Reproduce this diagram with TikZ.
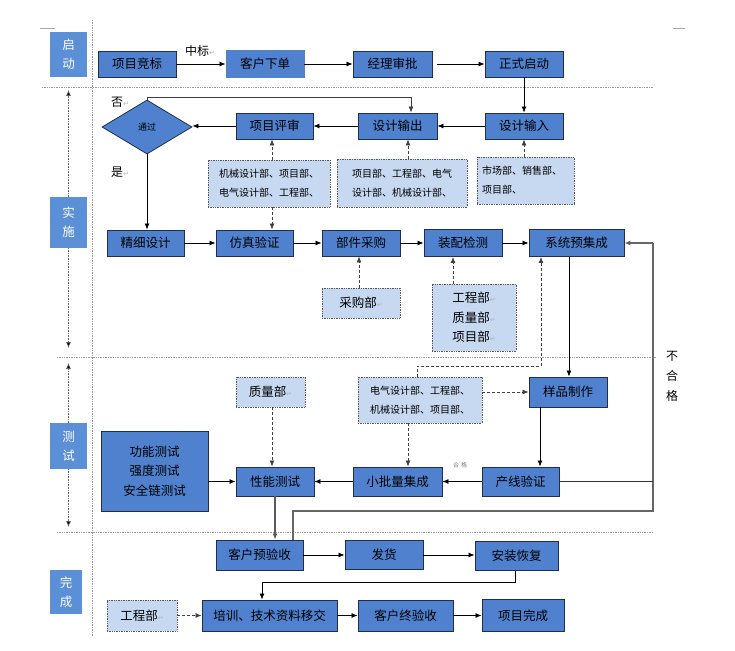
\documentclass[tikz,border=0pt]{standalone}
\usepackage{fontspec}
\setmainfont{Noto Sans CJK SC}
\newfontfamily\dvs{DejaVu Sans}
\usetikzlibrary{arrows.meta,shapes.geometric}
\definecolor{boxblue}{HTML}{4F81CF}
\definecolor{lblblue}{HTML}{5B8FD6}
\definecolor{lightblue}{HTML}{C6D9F1}
\definecolor{navy}{HTML}{1F2F4F}
\newcommand\parmk{{\dvs\color{gray!60}\fontsize{7}{7}\selectfont ↵}}
\begin{document}
\begin{tikzpicture}[x=1pt,y=-1pt,
  box/.style={draw=navy, line width=0.9pt, fill=boxblue, inner sep=0pt, text=black, font=\fontsize{12.5}{15}\selectfont},
  lbl/.style={fill=lblblue, text=white, inner sep=0pt, align=center, font=\fontsize{12.5}{19}\selectfont},
  dept/.style={draw=gray!70!black, densely dotted, line width=0.7pt, fill=lightblue, inner sep=0pt, align=center, font=\fontsize{10}{19}\selectfont},
  deptbig/.style={dept, font=\fontsize{12.5}{19.5}\selectfont},
  arr/.style={-{Latex[length=6pt,width=5pt]}, line width=0.8pt, draw=black},
  darr/.style={arr, draw=black!75, dash pattern=on 3pt off 2pt},
  fb/.style={line width=1.1pt, draw=black!60},
  sep/.style={draw=gray!80, densely dotted, line width=0.7pt},
  side/.style={draw=black!60, densely dotted, line width=0.6pt, -{Latex[length=6pt,width=5pt,fill=black]}},
  txt/.style={inner sep=0pt, font=\fontsize{12}{14}\selectfont}
]
\useasboundingbox (0,0) rectangle (735,650);
\fill[white] (0,0) rectangle (735,650);

% separators and corner marks
\draw[sep] (42,87) -- (653,87);
\draw[sep] (57,357) -- (657,357);
\draw[sep] (57,532) -- (653,532);
\draw[sep] (92,20) -- (92,636);
\draw[gray!70, line width=0.6pt] (40,28) -- (55,28);
\draw[gray!70, line width=0.6pt] (673,28) -- (685,28);

% phase labels
\node[lbl, minimum width=37pt, minimum height=45pt] (qd) at (68.5,54.5) {启\\动};
\node[lbl, minimum width=37pt, minimum height=51pt] (ss) at (68.5,222.5) {实\\施};
\node[lbl, minimum width=37pt, minimum height=46pt] (cs) at (68.5,446) {测\\试};
\node[lbl, minimum width=32pt, minimum height=44pt] (wc) at (66,592) {完\\成};

\draw[side] (ss.north) -- (68.5,90);
\draw[side] (ss.south) -- (68.5,348);
\draw[side] (cs.north) -- (68.5,363);
\draw[side] (cs.south) -- (68.5,527);

% row 1
\node[box, minimum width=78pt, minimum height=26pt] (xmjb) at (137,64) {项目竞标};
\node[box, draw=boxblue, minimum width=78pt, minimum height=27pt] (khxd) at (265,64) {客户下单};
\node[box, minimum width=79pt, minimum height=26pt] (jlsp) at (392.5,64) {经理审批};
\node[box, minimum width=78pt, minimum height=26pt] (zsqd) at (524,64) {正式启动};
\draw[arr] (xmjb) -- (khxd);
\draw[arr] (khxd) -- (jlsp);
\draw[arr] ([xshift=5pt]jlsp.east) -- (zsqd);
\node[txt] (zb) at (200,51) {中标\parmk};

% row 2
\node[box, minimum width=78pt, minimum height=26pt] (sjsr) at (524,126) {设计输入};
\node[box, minimum width=79pt, minimum height=26pt] (sjsc) at (397.5,126) {设计输出};
\node[box, minimum width=77pt, minimum height=26pt] (xmps) at (274.5,126) {项目评审};
\node[draw=navy, fill=boxblue, diamond, line width=0.8pt, minimum width=90pt, minimum height=54pt, inner sep=0pt, font=\fontsize{9}{9}\selectfont] (tg) at (147,127) {通过};
\draw[arr] (zsqd) -- (sjsr);
\draw[arr] (sjsr) -- (sjsc);
\draw[arr] (sjsc) -- (xmps);
\draw[arr] (xmps.west) -- (xmps.west -| tg.east);
\coordinate (fbtop) at (411,97);
\draw[arr, draw=black!75] (tg.north) |- (fbtop) -- (fbtop |- sjsc.north);
\node[txt] (fou) at (120,102) {否\parmk};
\node[txt] (shi) at (120,172) {是\parmk};

\node[dept, minimum width=122pt, minimum height=47pt] (d1) at (269,183.5) {机械设计部、项目部、\\电气设计部、工程部、};
\node[dept, minimum width=130pt, minimum height=48pt] (d2) at (402,183) {项目部、工程部、电气\\设计部、机械设计部、};
\node[dept, align=left, minimum width=97pt, minimum height=47pt, text width=87pt] (d3) at (525.5,180.5) {市场部、销售部、\\项目部、};
\coordinate (xa) at (272,0);
\coordinate (xb) at (408,0);
\coordinate (xc) at (524,0);
\draw[darr] (xa |- d1.north) -- (xa |- xmps.south);
\draw[darr] (xb |- d2.north) -- (xb |- sjsc.south);
\draw[darr] (xc |- d3.north) -- (xc |- sjsr.south);

% row 3
\node[box, minimum width=77pt, minimum height=26pt] (jxsj) at (145.5,243) {精细设计};
\node[box, minimum width=77pt, minimum height=26pt] (fzyz) at (254.5,243) {仿真验证};
\node[box, minimum width=78pt, minimum height=26pt] (bjcg) at (361,243) {部件采购};
\node[box, minimum width=78pt, minimum height=27pt] (zpjc) at (463,243) {装配检测};
\node[box, minimum width=95pt, minimum height=27pt] (xtyjc) at (576.5,243) {系统预集成};
\draw[arr] (tg.south) -- (tg.south |- jxsj.north);
\draw[darr] (xa |- d1.south) -- (xa |- fzyz.north);
\draw[arr] (jxsj) -- (fzyz);
\draw[arr] (fzyz) -- (bjcg);
\draw[arr] (bjcg) -- (zpjc);
\draw[arr] (zpjc) -- (xtyjc);

\node[deptbig, minimum width=78pt, minimum height=30pt] (cgb) at (361,303) {采购部\parmk};
\node[deptbig, minimum width=84pt, minimum height=67pt] (gzx) at (474,317.5) {工程部\parmk\\质量部\parmk\\项目部\parmk};
\coordinate (xd) at (359,0);
\coordinate (xe) at (453,0);
\draw[darr] (xd |- cgb.north) -- (xd |- bjcg.south);
\draw[darr] (xe |- gzx.north) -- (xe |- zpjc.south);

% test section
\node[box, minimum width=78pt, minimum height=30pt] (ypzz) at (568,392) {样品制作};
\node[dept, minimum width=124pt, minimum height=46pt] (d4) at (420,400) {电气设计部、工程部、\\机械设计部、项目部、};
\node[box, minimum width=89pt, minimum height=29pt] (xplj) at (397.5,481.5) {小批量集成};
\node[box, minimum width=77pt, minimum height=29pt] (cxyz) at (520.5,481.5) {产线验证};
\node[box, minimum width=78pt, minimum height=29pt] (xncs) at (275,481.5) {性能测试};
\node[box, align=center, minimum width=107pt, minimum height=80pt, font=\fontsize{12.5}{19.5}\selectfont] (gn) at (154.5,471) {功能测试\\强度测试\\安全链测试};
\node[deptbig, minimum width=69pt, minimum height=30pt] (zlb) at (270.5,392) {质量部\parmk};

\coordinate (xf) at (417,0);
\coordinate (xg) at (541,0);
\coordinate (xh) at (540,0);
\coordinate (xi) at (569,0);
\draw[arr] (xi |- xtyjc.south) -- (xi |- ypzz.north);
\draw[darr] (xf |- d4.north) -- (417,366) -- (541,366) -- (xg |- xtyjc.south);
\draw[darr] (d4.east |- ypzz.west) -- (ypzz.west);
\draw[darr] (xb |- d4.south) -- (xb |- xplj.north);
\draw[arr] (xh |- ypzz.south) -- (xh |- cxyz.north);
\draw[arr] (cxyz) -- (xplj);
\draw[arr] (xplj) -- (xncs);
\draw[arr] (gn.east |- xncs.west) -- (xncs.west);
\draw[darr] (xa |- zlb.south) -- (xa |- xncs.north);
\node[inner sep=0pt, text=gray, font=\fontsize{6}{6}\selectfont] (hg) at (460,465) {合\,\,格};

\node[txt, align=center, font=\fontsize{12}{20}\selectfont] (bhg) at (672,376.5) {不\\合\\格};

% completion
\node[box, minimum width=87pt, minimum height=30pt] (kyys) at (259.5,555) {客户预验收};
\node[box, minimum width=78pt, minimum height=29pt] (fh) at (384,555) {发货};
\node[box, minimum width=83pt, minimum height=29pt] (azhf) at (516.5,556) {安装恢复};
\node[box, minimum width=135pt, minimum height=31pt] (px) at (269.5,615.5) {培训、技术资料移交};
\node[box, minimum width=95pt, minimum height=31pt] (kzys) at (405.5,615.5) {客户终验收};
\node[box, minimum width=82pt, minimum height=32pt] (xmwc) at (523,615.5) {项目完成};
\node[deptbig, minimum width=70pt, minimum height=31pt] (gcb) at (142,615.5) {工程部\parmk};

\draw[arr, line width=1.1pt, draw=black!65] (xncs.south) -- (xncs.south |- kyys.north);
\coordinate (xj) at (293,0);
\coordinate (rr) at (653,481.5);
\draw[fb] (xj |- kyys.north) -- (293,511) -- (653,511) -- (653,243);
\draw[fb, -{Latex[length=6pt,width=5pt,fill=black]}] (653,243) -- (xtyjc.east);
\draw[fb, draw=black!80, line width=0.9pt] (cxyz.east) -- (rr);

\draw[arr] (kyys) -- (fh);
\draw[arr] (fh) -- (fh -| azhf.west);
\coordinate (xk) at (515,0);
\coordinate (xl) at (262,0);
\draw[arr] (xk |- azhf.south) -- (515,582) -- (262,582) -- (xl |- px.north);
\draw[arr] (px) -- (kzys);
\draw[arr] (kzys) -- (xmwc);
\draw[darr] (gcb) -- (px);
\end{tikzpicture}
\end{document}
